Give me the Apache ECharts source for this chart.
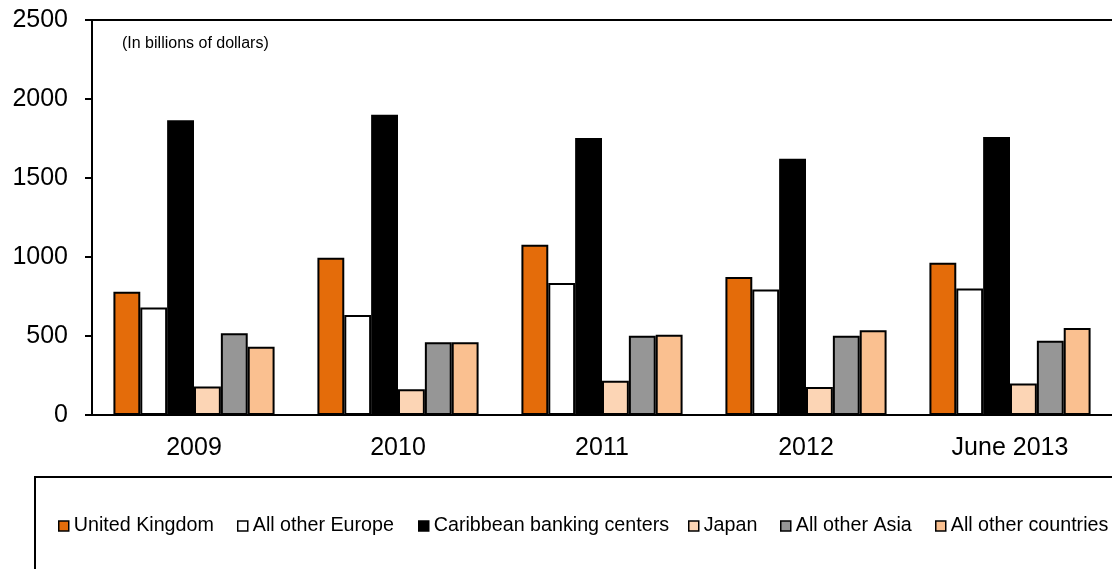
<!DOCTYPE html>
<html>
<head>
<meta charset="utf-8">
<script src="https://cdn.jsdelivr.net/npm/echarts@6/dist/echarts.min.js"></script>
<style>
html,body{margin:0;padding:0;background:#fff;}
#chart{width:1112px;height:569px;}
</style>
</head>
<body>
<div id="chart"></div>
<script>
const categories = ['2009', '2010', '2011', '2012', 'June 2013'];
const seriesNames = ['United Kingdom', 'All other Europe', 'Caribbean banking centers', 'Japan', 'All other Asia', 'All other countries'];
const unitedKingdom = [780, 995, 1078, 873, 964];
const allOtherEurope = [680, 633, 835, 795, 800];
const caribbean = [1865, 1900, 1753, 1622, 1759];
const japan = [180, 163, 217, 177, 200];
const allOtherAsia = [518, 460, 502, 502, 470];
const allOtherCountries = [432, 460, 508, 536, 550];
const yTicks = [0, 500, 1000, 1500, 2000, 2500];

const colors = ['#E46C0A', '#FFFFFF', '#000000', '#FCD5B5', '#969696', '#FAC090'];
const values = [unitedKingdom, allOtherEurope, caribbean, japan, allOtherAsia, allOtherCountries];
const legendLefts = [58, 237, 418, 688, 780, 935];
const FONT = '"Liberation Sans", Arial, sans-serif';

const chart = echarts.init(document.getElementById('chart'), null, {renderer: 'canvas'});

const series = seriesNames.map((name, i) => ({
  name: name,
  type: 'bar',
  data: values[i],
  barGap: '0%',
  barCategoryGap: '21%',
  itemStyle: {color: colors[i], borderColor: '#000', borderWidth: 2},
  emphasis: {disabled: true},
  animation: false
}));

const legends = seriesNames.map((name, i) => ({
  data: [name],
  left: legendLefts[i],
  top: 516,
  padding: 0,
  itemWidth: 10,
  itemHeight: 10,
  itemGap: 0,
  icon: 'rect',
  itemStyle: {borderColor: '#000', borderWidth: 1.5},
  textStyle: {fontFamily: FONT, fontSize: 19.7, color: '#000', lineHeight: 20},
  selectedMode: false
}));

chart.setOption({
  animation: false,
  backgroundColor: '#fff',
  grid: {left: 92, right: 0, top: 20, bottom: 154, containLabel: false},
  legend: legends,
  xAxis: [{
    type: 'category',
    data: categories,
    position: 'bottom',
    axisLine: {show: true, lineStyle: {color: '#000', width: 2}},
    axisTick: {show: false},
    axisLabel: {fontFamily: FONT, fontSize: 25, color: '#000', margin: 21}
  }, {
    type: 'category',
    data: categories,
    position: 'top',
    axisLine: {show: true, lineStyle: {color: '#000', width: 2}},
    axisTick: {show: false},
    axisLabel: {show: false}
  }],
  yAxis: {
    type: 'value',
    min: yTicks[0],
    max: yTicks[yTicks.length - 1],
    interval: 500,
    axisLine: {show: true, lineStyle: {color: '#000', width: 2}},
    axisTick: {show: true, length: 7, lineStyle: {color: '#000', width: 2}},
    axisLabel: {fontFamily: FONT, fontSize: 25, color: '#000', margin: 24, formatter: v => String(v)},
    splitLine: {show: false}
  },
  graphic: [{
    type: 'text',
    left: 122,
    top: 36,
    style: {text: '(In billions of dollars)', fontFamily: FONT, fontSize: 16, fill: '#000'}
  }, {
    type: 'rect',
    shape: {x: 35, y: 477, width: 1200, height: 200},
    style: {fill: 'none', stroke: '#000', lineWidth: 2},
    silent: true
  }],
  series: series
});
</script>
</body>
</html>
